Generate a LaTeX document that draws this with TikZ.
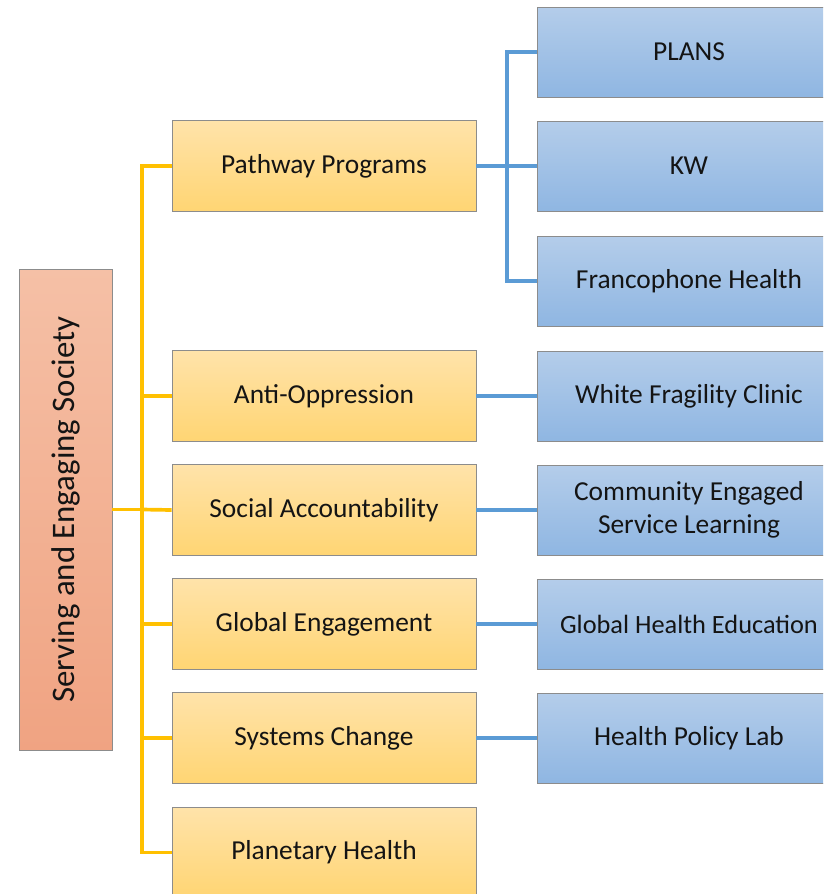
\documentclass[tikz,border=0pt]{standalone}
\usepackage{fontspec}
\setmainfont{Carlito}
\definecolor{ornTop}{RGB}{255,227,170}
\definecolor{ornBot}{RGB}{255,213,115}
\definecolor{bluTop}{RGB}{180,205,234}
\definecolor{bluBot}{RGB}{143,182,226}
\definecolor{rootTop}{RGB}{245,192,166}
\definecolor{rootBot}{RGB}{240,163,130}
\definecolor{yline}{RGB}{255,192,0}
\definecolor{bline}{RGB}{91,155,213}
\definecolor{boxedge}{RGB}{140,140,140}
\definecolor{txt}{RGB}{20,20,20}
\tikzset{
	rootbox/.style={draw=boxedge, top color=rootTop, bottom color=rootBot, rotate=90, minimum width=9.62cm, minimum height=1.86cm, text=txt, font=\fontsize{18.7}{22}\selectfont},
	progbox/.style={draw=boxedge, top color=ornTop, bottom color=ornBot, minimum width=6.08cm, minimum height=1.82cm, text=txt, font=\fontsize{15.6}{18.7}\selectfont},
	initbox/.style={draw=boxedge, top color=bluTop, bottom color=bluBot, minimum width=6.08cm, minimum height=1.80cm, align=center, text=txt, font=\fontsize{15.6}{18.7}\selectfont},
	yconn/.style={draw=yline, line width=2.1pt},
	bconn/.style={draw=bline, line width=2pt}
}
\begin{document}
\begin{tikzpicture}[x=0.02cm, y=-0.02cm]
	\useasboundingbox (0,0) rectangle (823,894);
	\clip (0,0) rectangle (823,894);
	% root
	\node [rootbox] (ses) at (65.5,509.5) {Serving and Engaging Society};
	% programs
	\node [progbox] (pathway) at (324,166) {Pathway Programs};
	\node [progbox] (antiopp) at (324,396) {Anti-Oppression};
	\node [progbox] (socacc) at (324,510) {Social Accountability};
	\node [progbox] (globeng) at (324,624) {Global Engagement};
	\node [progbox] (syschg) at (324,738) {Systems Change};
	\node [progbox] (planet) at (324,852.5) {Planetary Health};
	% initiatives
	\node [initbox] (plans) at (689,52) {PLANS};
	\node [initbox] (kw) at (689,166) {KW};
	\node [initbox] (franco) at (689,281) {Francophone Health};
	\node [initbox] (whitefrag) at (689,396) {White Fragility Clinic};
	\node [initbox] (cesl) at (689,510) {Community Engaged\\Service Learning};
	\node [initbox, font=\fontsize{15}{18}\selectfont] (ghe) at (689,624) {Global Health Education};
	\node [initbox] (hpl) at (689,738) {Health Policy Lab};
	% connectors
	\coordinate (ybus) at (142,509.5);
	\coordinate (bbus) at (507,166);
	\draw [yconn] (ses.south) -- (ybus);
	\draw [yconn] (ybus) |- (pathway.west);
	\draw [yconn] (ybus) |- (antiopp.west);
	\draw [yconn] (ybus) -- (socacc.west);
	\draw [yconn] (ybus) |- (globeng.west);
	\draw [yconn] (ybus) |- (syschg.west);
	\draw [yconn] (ybus) |- (planet.west);
	\draw [bconn] (pathway.east) -- (kw.west);
	\draw [bconn] (bbus) |- (plans.west);
	\draw [bconn] (bbus) |- (franco.west);
	\draw [bconn] (antiopp.east) -- (whitefrag.west);
	\draw [bconn] (socacc.east) -- (cesl.west);
	\draw [bconn] (globeng.east) -- (ghe.west);
	\draw [bconn] (syschg.east) -- (hpl.west);
\end{tikzpicture}
\end{document}
